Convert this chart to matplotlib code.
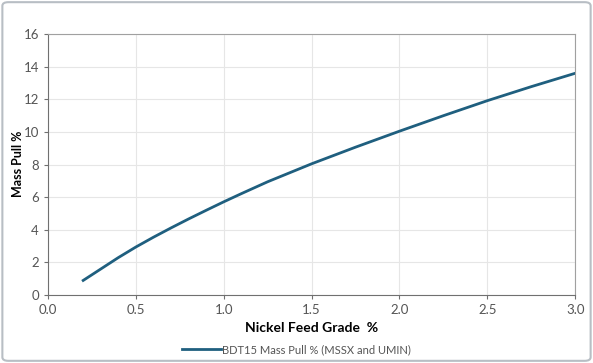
import numpy as np
import matplotlib.pyplot as plt
from matplotlib.patches import FancyBboxPatch

# values
grade = [0.2, 0.25, 0.3, 0.35, 0.4, 0.5, 0.6, 0.7, 0.8, 0.9, 1.0, 1.1,
         1.25, 1.5, 1.75, 2.0, 2.25, 2.5, 2.75, 3.0]
mass_pull = [0.9, 1.25, 1.6, 1.95, 2.3, 2.95, 3.55, 4.12, 4.67, 5.2, 5.72,
             6.22, 6.95, 8.05, 9.07, 10.05, 11.0, 11.92, 12.78, 13.6]
series_name = 'BDT15 Mass Pull % (MSSX and UMIN)'

plt.rcParams['font.family'] = ['Lato', 'DejaVu Sans']

fig = plt.figure(figsize=(5.93, 3.63), dpi=100)
fig.patches.append(FancyBboxPatch((0.004, 0.006), 0.992, 0.988,
                                  boxstyle='round,pad=0,rounding_size=0.01',
                                  transform=fig.transFigure, fill=False,
                                  edgecolor='#b8bec4', linewidth=1.5))
ax = fig.add_axes([0.081, 0.187, 0.889, 0.719])

ax.plot(grade, mass_pull, color='#1f5f7f', linewidth=2, label=series_name,
        solid_joinstyle='round')

ax.set_xlim(0, 3)
ax.set_ylim(0, 16)
ax.set_xticks(np.arange(0, 3.01, 0.5))
ax.set_xticklabels(['%.1f' % v for v in np.arange(0, 3.01, 0.5)])
ax.set_yticks(range(0, 17, 2))
ax.grid(color='#e6e6e6', linewidth=0.8)
ax.set_axisbelow(True)
for s in ['top', 'right']:
    ax.spines[s].set_color('#a0a0a0')
for s in ['left', 'bottom']:
    ax.spines[s].set_color('#707070')
ax.tick_params(colors='#707070', labelcolor='#555555', labelsize=9.5,
               length=3, width=0.8)

ax.set_xlabel('Nickel Feed Grade  %', fontsize=10, fontweight='bold',
              labelpad=4)
fig.text(0.031, 0.55, 'Mass Pull %', rotation=90, ha='center', va='center',
         fontsize=9, fontweight='bold')

fig.legend(loc='center', bbox_to_anchor=(0.5, 0.037), frameon=False,
           fontsize=8, labelcolor='#555555', handlelength=3.5,
           handletextpad=0.1)

fig.savefig('out.png', dpi=100)
